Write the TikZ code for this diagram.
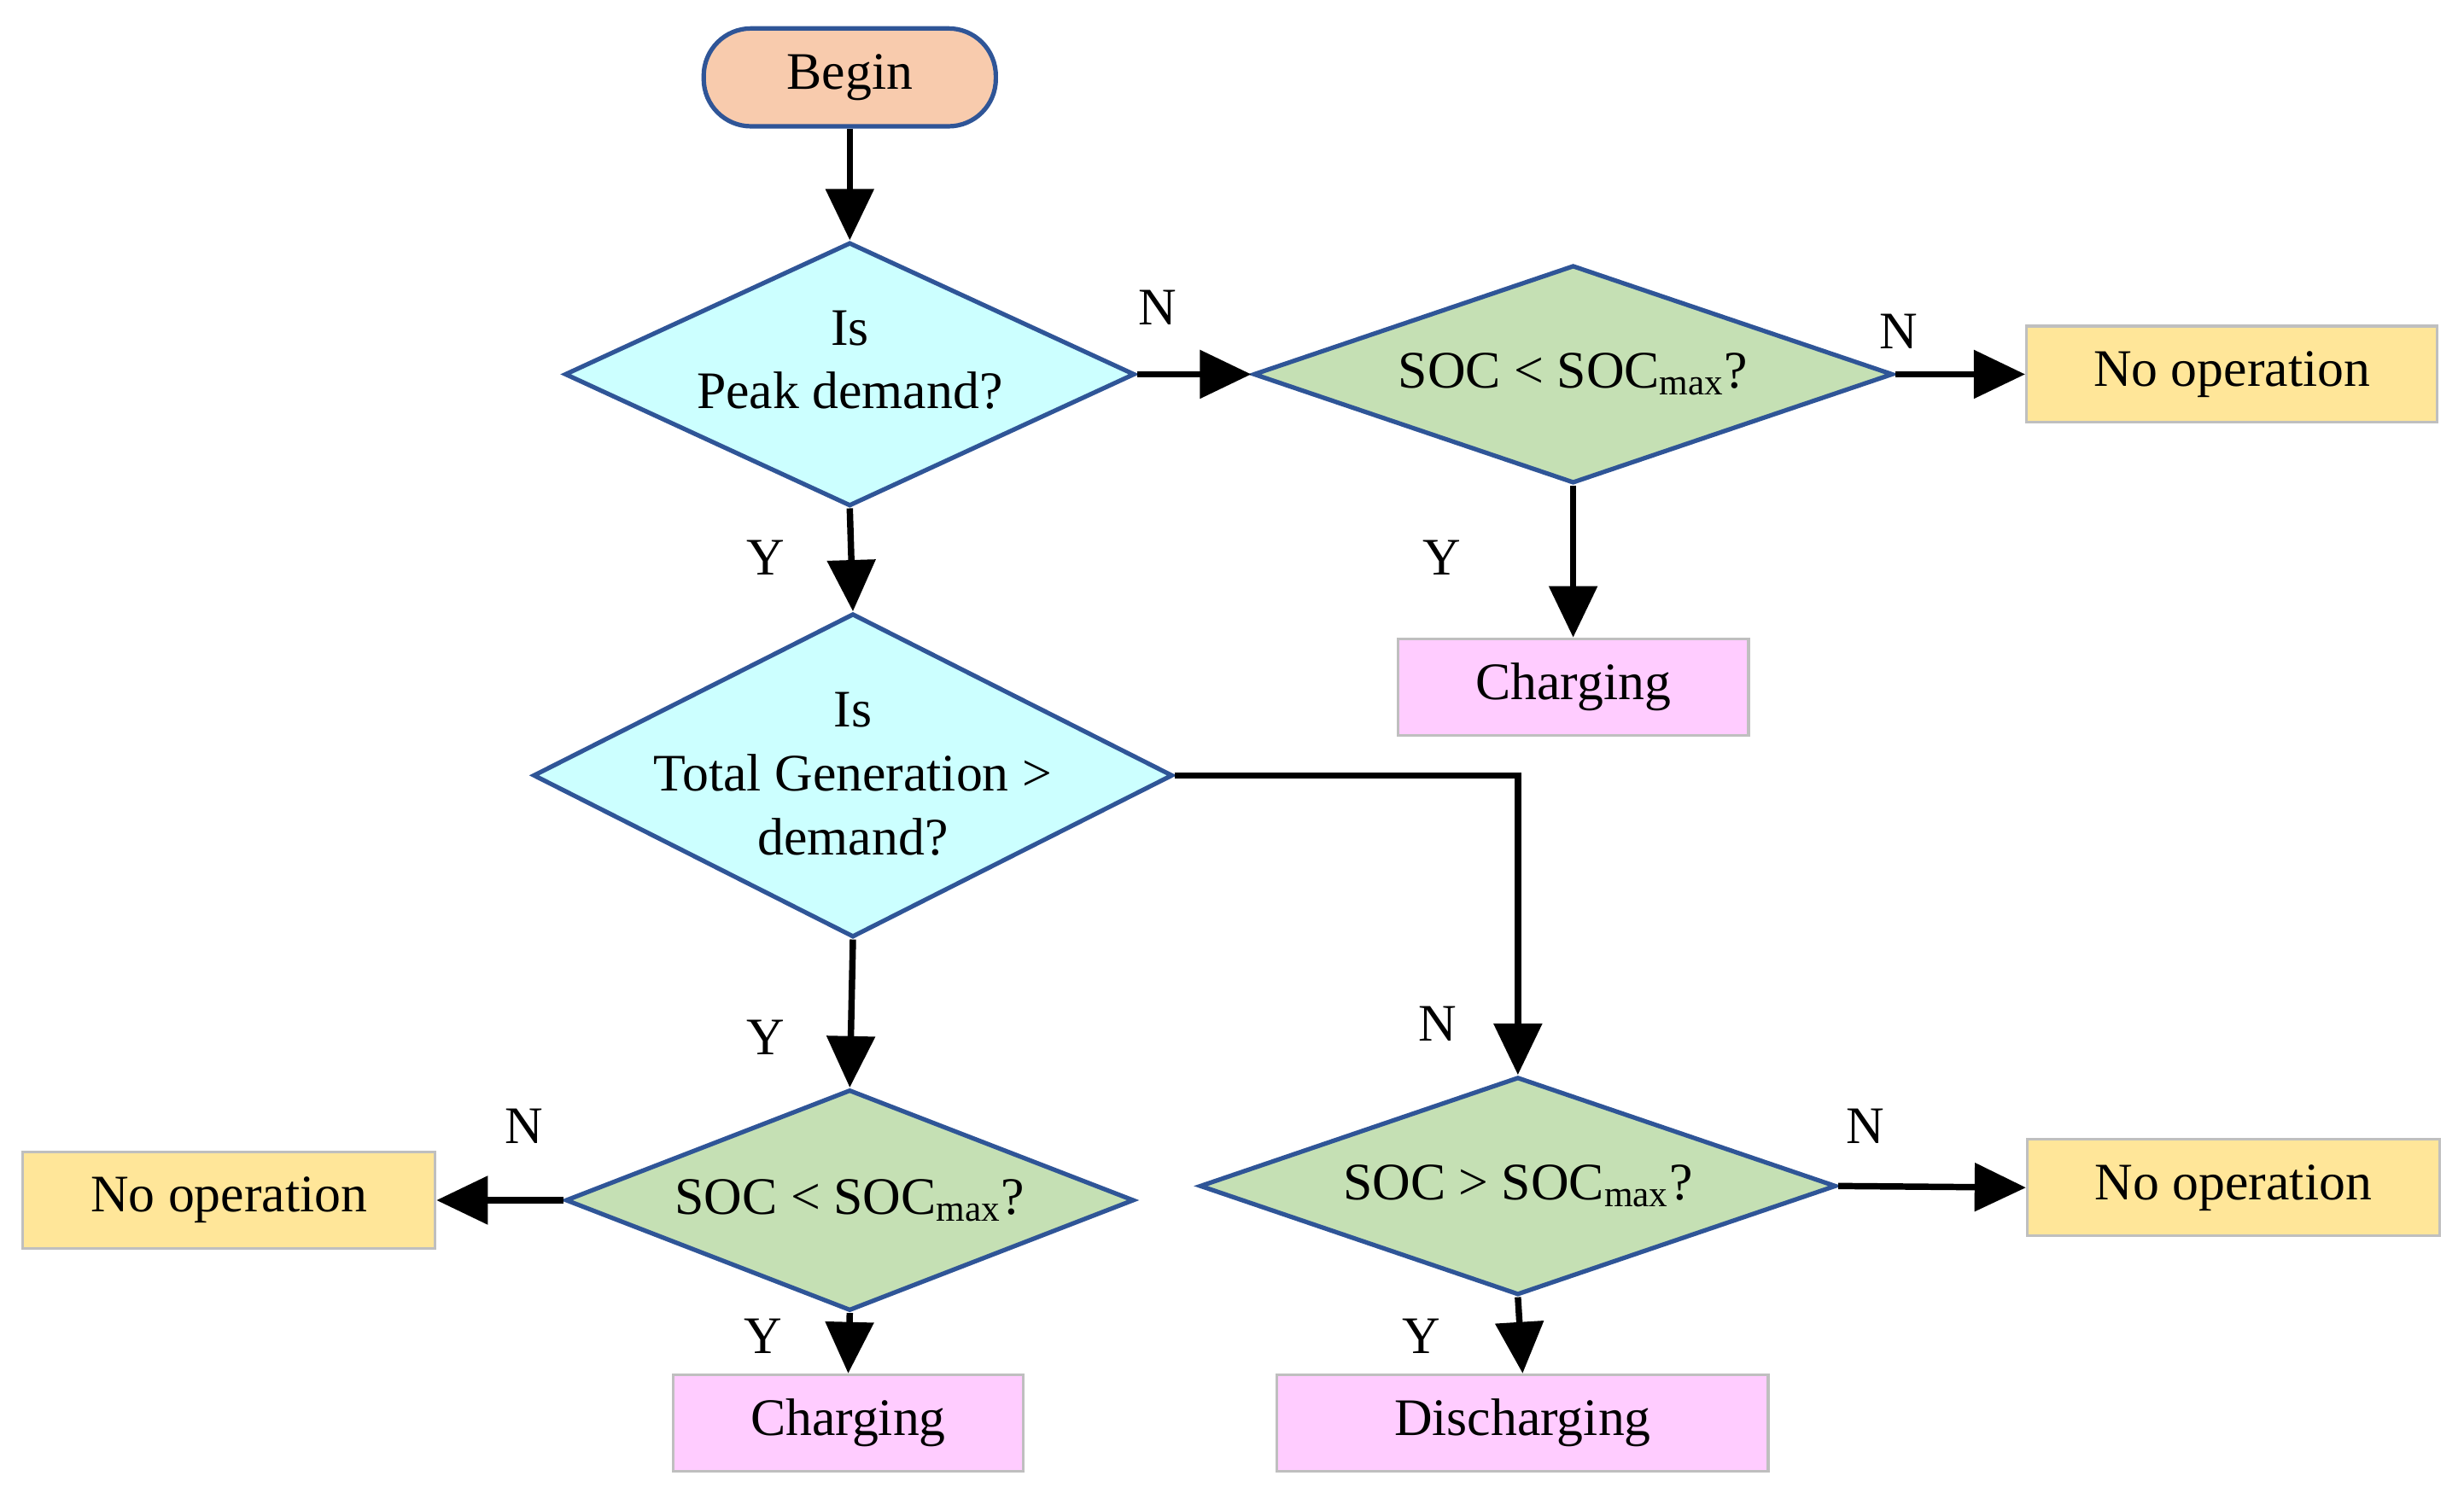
\documentclass[tikz,border=0pt]{standalone}
\usepackage{fontspec}
\setmainfont{Liberation Serif}
\usetikzlibrary{shapes.geometric,arrows.meta}
\definecolor{bd}{HTML}{2F5597}
\definecolor{peach}{HTML}{F8CBAD}
\definecolor{cyanf}{HTML}{CCFFFF}
\definecolor{greenf}{HTML}{C5E0B4}
\definecolor{yel}{HTML}{FFE699}
\definecolor{pinkf}{HTML}{FFCCFF}
\begin{document}
\begin{tikzpicture}[x=0.02cm,y=-0.02cm,
  every node/.style={font=\fontsize{19}{23}\selectfont},
  dia/.style={diamond,draw=bd,line width=1.6pt,inner sep=0pt},
  box/.style={rectangle,draw=black!25,line width=1pt,minimum height=1.22cm},
  arr/.style={line width=2.3pt,-{Triangle[length=0.65cm,width=0.6cm]}},
  lab/.style={inner sep=0pt}]
\useasboundingbox (0,0) rectangle (1560,949);
\node[rounded corners=0.6cm,draw=bd,fill=peach,line width=1.6pt,minimum width=3.7cm,minimum height=1.24cm] (begin) at (538,49) {Begin};
\node[dia,fill=cyanf,minimum width=7.22cm,minimum height=3.34cm] (d1) at (538,237) {};
\node[align=center] at (538,228) {Is\\Peak demand?};
\node[dia,fill=greenf,minimum width=8.1cm,minimum height=2.76cm] (d2) at (996,237) {};
\node at (996,237) {SOC < SOC\textsubscript{max}?};
\node[box,fill=yel,minimum width=5.2cm] (n1) at (1413,237) {No operation};
\node[box,fill=pinkf,minimum width=4.44cm] (c1) at (996,435) {Charging};
\node[dia,fill=cyanf,minimum width=8.1cm,minimum height=4.1cm] (d3) at (540,491) {};
\node[align=center] at (540,490) {Is\\Total Generation >\\demand?};
\node[dia,fill=greenf,minimum width=7.2cm,minimum height=2.8cm] (d4) at (538,760) {};
\node at (538,760) {SOC < SOC\textsubscript{max}?};
\node[box,fill=yel,minimum width=5.22cm] (n2) at (145,760) {No operation};
\node[box,fill=pinkf,minimum width=4.44cm] (c2) at (537,901) {Charging};
\node[dia,fill=greenf,minimum width=8.06cm,minimum height=2.76cm] (d5) at (961,751) {};
\node at (961,751) {SOC > SOC\textsubscript{max}?};
\node[box,fill=yel,minimum width=5.22cm] (n3) at (1414,752) {No operation};
\node[box,fill=pinkf,minimum width=6.22cm] (dc) at (964,901) {Discharging};
\draw[arr] (begin.south) -- (d1.north);
\draw[arr] (d1.east) -- (d2.west);
\draw[arr] (d2.east) -- (n1.west);
\draw[arr] (d2.south) -- (c1.north);
\draw[arr] (d1.south) -- (d3.north);
\coordinate (k) at (961,491);
\draw[arr] (d3.east) -- (k) -- (d5.north);
\draw[arr] (d3.south) -- (d4.north);
\draw[arr] (d4.west) -- (n2.east);
\draw[arr] (d4.south) -- (c2.north);
\draw[arr] (d5.east) -- (n3.west);
\draw[arr] (d5.south) -- (dc.north);
\node[lab] at (733,195) {N};
\node[lab] at (1202,210) {N};
\node[lab] at (913,353) {Y};
\node[lab] at (485,353) {Y};
\node[lab] at (485,657) {Y};
\node[lab] at (910,648) {N};
\node[lab] at (332,713) {N};
\node[lab] at (483,846) {Y};
\node[lab] at (900,846) {Y};
\node[lab] at (1181,713) {N};
\end{tikzpicture}
\end{document}
